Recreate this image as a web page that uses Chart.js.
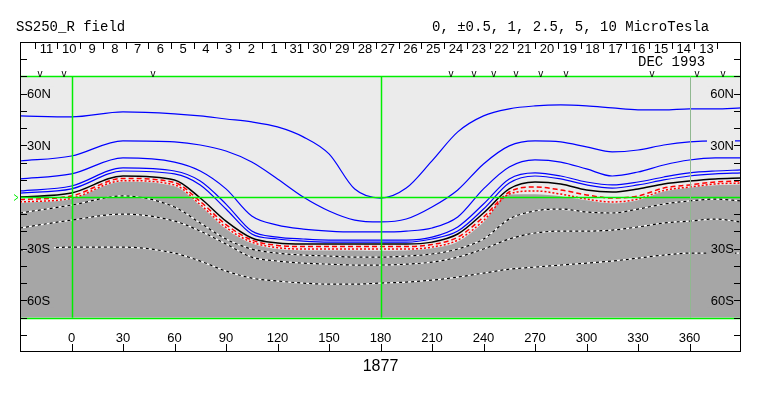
<!DOCTYPE html>
<html>
<head>
<meta charset="utf-8">
<script src="https://cdn.jsdelivr.net/npm/chart.js@4.4.0/dist/chart.umd.min.js"></script>
<style>
  html, body { margin: 0; padding: 0; background: #fff; }
</style>
</head>
<body>
<canvas id="map" width="763" height="396"></canvas>
<script>
// Carrington longitude grid (deg) the contours are sampled on
const lons = [-30, 0, 30, 60, 75, 90, 105, 120, 135, 150, 165, 180, 195, 210, 225, 240, 255, 270, 285, 300, 315, 330, 345, 360, 375, 390];

// positive contours (latitude in deg), top to bottom
const blue1 = [47.1, 46.5, 49.4, 48.3, 47.1, 45.3, 43.6, 40.7, 34.9, 25.0, 4.6, -0.6, 5.2, 21.0, 37.8, 47.1, 51.2, 52.9, 53.5, 52.9, 51.7, 50.6, 50.6, 51.2, 51.2, 51.7];
const blue2 = [20.9, 23.8, 32.6, 32.0, 30.2, 26.7, 20.3, 10.5, 0, -8.1, -13.4, -14.5, -12.8, -5.8, 4.1, 19.2, 29.7, 32.6, 32.0, 29.1, 26.2, 27.3, 30.2, 32.0, 32.6, 32.6];
const blue3 = [10.5, 13.4, 22.7, 20.3, 15.1, 4.7, -11.0, -16.3, -18.6, -19.8, -20.3, -20.3, -19.8, -18.0, -11.6, 4.7, 17.4, 21.5, 20.3, 16.3, 12.2, 14.5, 18.6, 21.5, 22.7, 22.7];
const blue4 = [3.5, 6.4, 16.9, 15.1, 9.3, -4.1, -19.8, -23.3, -24.4, -25.0, -25.0, -25.0, -25.0, -23.3, -17.4, -4.1, 10.5, 14.0, 12.2, 8.7, 7.0, 8.7, 11.6, 14.0, 15.1, 15.7];
const blue5 = [2.3, 4.7, 15.1, 13.4, 7.0, -7.0, -21.5, -24.4, -25.6, -26.2, -26.2, -26.2, -26.2, -24.4, -19.8, -7.0, 8.1, 12.2, 10.5, 7.0, 5.2, 7.0, 9.9, 12.2, 13.4, 14.0];
const blackLine = [0, 2.3, 12.2, 9.9, -0.6, -14.0, -23.8, -26.7, -27.3, -27.3, -27.3, -27.3, -27.3, -26.2, -21.5, -9.3, 4.7, 8.7, 7.6, 4.1, 2.9, 4.7, 7.6, 9.3, 10.5, 11.0];
const redDash = [-1.5, 0.6, 10.8, 8.4, -2.6, -16.0, -25.0, -28.1, -28.8, -28.8, -28.8, -28.8, -28.8, -27.6, -23.3, -11.6, 2.9, 5.8, 4.1, 1.2, -0.6, 0.6, 5.2, 7.0, 8.7, 9.3];
const redDot = [-2.9, -0.8, 9.5, 7.0, -4.4, -17.7, -26.2, -29.4, -30.2, -30.2, -30.2, -30.2, -30.2, -29.1, -25.0, -13.7, 1.7, 3.5, 1.7, -1.2, -2.9, -1.2, 3.8, 5.8, 7.6, 8.1];
// edge of the negative (dark) region
const neutral = [-3.5, -1.2, 8.8, 6.2, -5.1, -18.6, -27.0, -30.2, -31.0, -31.0, -31.0, -31.2, -31.0, -29.8, -26.0, -14.7, 1.4, 1.6, 0.4, -1.9, -3.7, -1.9, 3.2, 5.4, 6.8, 7.3];
// negative contours
const neg1 = [-9.3, -4.7, 0.6, -5.8, -15.1, -24.4, -30.2, -32.6, -33.7, -34.3, -34.9, -34.9, -34.3, -33.1, -30.2, -24.4, -12.8, -8.1, -7.0, -8.7, -9.3, -7.0, -4.1, -2.3, -1.2, -2.3];
const neg2 = [-18.0, -13.4, -9.9, -14.0, -19.8, -27.3, -34.9, -37.2, -38.4, -39.0, -39.5, -39.5, -39.0, -37.8, -34.9, -30.2, -24.4, -20.9, -19.8, -19.8, -19.2, -17.4, -15.1, -14.0, -12.8, -14.5];
const neg3 = [-30.8, -29.1, -29.1, -32.6, -37.2, -43.0, -47.1, -48.8, -50.0, -50.6, -50.6, -50.0, -49.4, -48.3, -46.5, -44.2, -41.9, -40.7, -39.5, -38.4, -37.2, -35.5, -33.7, -32.6, -32.6, -32.6];

// axes
const lonTicks = [0, 30, 60, 90, 120, 150, 180, 210, 240, 270, 300, 330, 360];
const latTicks = [60, 30, -30, -60];
const latLabels = ['60N', '30N', '30S', '60S'];
const latMinor = [80, 70, 60, 50, 40, 30, 20, 10, -10, -20, -30, -40, -50, -60, -70, -80];
const dayTickLons = [-21.5, -8.2, 5.0, 18.3, 31.5, 44.8, 58.1, 71.3, 84.6, 97.8, 111.1, 124.3, 137.6, 150.8, 164.1, 177.3, 190.6, 203.8, 217.1, 230.3, 243.6, 256.9, 270.1, 283.4, 296.6, 309.9, 323.2, 336.4, 349.7, 362.9, 376.2];
const dayLabels = ['11', '10', '9', '8', '7', '6', '5', '4', '3', '2', '1', '31', '30', '29', '28', '27', '26', '25', '24', '23', '22', '21', '20', '19', '18', '17', '16', '15', '14', '13'];
const markerLons = [-18.3, -4.4, 47.5, 221.0, 234.4, 246.0, 258.9, 273.4, 288.0, 338.1, 364.3, 379.5];

function pts(lats) {
  return lons.map((x, i) => ({ x: x, y: lats[i] }));
}

function contour(lats, color, dash, order, width) {
  return {
    data: pts(lats),
    showLine: true,
    borderColor: color,
    borderWidth: width || 1.2,
    borderDash: dash || [],
    pointRadius: 0,
    cubicInterpolationMode: 'monotone',
    fill: false,
    order: order
  };
}

function crisp(v) { return Math.round(v) + 0.5; }

const mapDecor = {
  id: 'mapDecor',
  beforeDatasetsDraw(chart) {
    const { ctx, chartArea: a, scales: { y } } = chart;
    const top = y.getPixelForValue(70), bot = y.getPixelForValue(-70);
    ctx.save();
    ctx.fillStyle = '#ebebeb';
    ctx.fillRect(a.left, top, a.right - a.left, bot - top);
    ctx.restore();
  },
  afterDatasetsDraw(chart) {
    const { ctx, chartArea: a, scales: { x, y } } = chart;
    const top = y.getPixelForValue(70), bot = y.getPixelForValue(-70);
    const y0 = crisp(y.getPixelForValue(0));
    ctx.save();

    // grid lines
    ctx.strokeStyle = '#00ee00';
    ctx.lineWidth = 1.5;
    ctx.beginPath();
    ctx.moveTo(a.left, y0); ctx.lineTo(a.right, y0);
    ctx.moveTo(a.left, crisp(top)); ctx.lineTo(a.right, crisp(top));
    ctx.moveTo(a.left, crisp(bot)); ctx.lineTo(a.right, crisp(bot));
    [0, 180].forEach(v => {
      const px = crisp(x.getPixelForValue(v));
      ctx.moveTo(px, top); ctx.lineTo(px, bot);
    });
    ctx.stroke();
    ctx.strokeStyle = '#90b890';
    ctx.lineWidth = 1;
    ctx.beginPath();
    const p360 = crisp(x.getPixelForValue(360));
    ctx.moveTo(p360, top); ctx.lineTo(p360, bot);
    ctx.stroke();

    // little equator marker outside the frame
    ctx.strokeStyle = '#00ee00';
    ctx.beginPath();
    ctx.moveTo(14, y0 - 3); ctx.lineTo(18, y0); ctx.lineTo(14, y0 + 3);
    ctx.stroke();

    // latitude labels on both sides
    ctx.font = '13px "Liberation Sans"';
    ctx.textBaseline = 'middle';
    latTicks.forEach((v, i) => {
      const py = y.getPixelForValue(v);
      ctx.fillStyle = v > 0 ? '#ebebeb' : '#a6a6a6';
      ctx.fillRect(a.left + 6, py - 7, 28, 14);
      ctx.fillRect(a.right - 34, py - 7, 28, 14);
      ctx.fillStyle = '#000';
      ctx.textAlign = 'left';
      ctx.fillText(latLabels[i], a.left + 7, py + 1);
      ctx.textAlign = 'right';
      ctx.fillText(latLabels[i], a.right - 7, py + 1);
    });

    // frame and ticks
    ctx.strokeStyle = '#000';
    ctx.lineWidth = 1;
    ctx.strokeRect(crisp(a.left), crisp(a.top), Math.round(a.right - a.left) - 1, Math.round(a.bottom - a.top) - 1);
    ctx.beginPath();
    latMinor.forEach(v => {
      const py = crisp(y.getPixelForValue(v));
      ctx.moveTo(a.left, py); ctx.lineTo(a.left + 7, py);
      ctx.moveTo(a.right - 7, py); ctx.lineTo(a.right, py);
    });
    lonTicks.forEach(v => {
      const px = crisp(x.getPixelForValue(v));
      ctx.moveTo(px, a.bottom); ctx.lineTo(px, a.bottom - 8);
    });
    dayTickLons.forEach(v => {
      const px = crisp(x.getPixelForValue(v));
      ctx.moveTo(px, a.top + 1); ctx.lineTo(px, a.top + 7);
    });
    ctx.stroke();

    // longitude labels
    ctx.fillStyle = '#000';
    ctx.textAlign = 'center';
    ctx.textBaseline = 'middle';
    ctx.font = '13px "Liberation Sans"';
    lonTicks.forEach(v => ctx.fillText(String(v), x.getPixelForValue(v), 338));
    ctx.font = '16px "Liberation Sans"';
    ctx.fillText('1877', x.getPixelForValue(180), 367);

    // day numbers along the top
    ctx.font = '13px "Liberation Sans"';
    dayLabels.forEach((d, i) => {
      const px = (x.getPixelForValue(dayTickLons[i]) + x.getPixelForValue(dayTickLons[i + 1])) / 2;
      ctx.fillText(d, px + 0.5, a.top + 7);
    });
    ctx.font = '10px "Liberation Sans"';
    ctx.textBaseline = 'alphabetic';
    markerLons.forEach(v => ctx.fillText('v', x.getPixelForValue(v), 77));

    // titles
    ctx.font = '14px "Liberation Mono"';
    ctx.textAlign = 'left';
    ctx.fillText('SS250_R field', 16, 31);
    ctx.fillText('0, \u00b10.5, 1, 2.5, 5, 10 MicroTesla', 432, 31);
    ctx.fillText('DEC 1993', 638, 66);
    ctx.restore();
  }
};

new Chart(document.getElementById('map').getContext('2d'), {
  type: 'scatter',
  data: {
    datasets: [
      contour(blue1, '#0000ff', null, 20),
      contour(blue2, '#0000ff', null, 20),
      contour(blue3, '#0000ff', null, 20),
      contour(blue4, '#0000ff', null, 20),
      contour(blue5, '#0000ff', null, 20),
      contour(blackLine, '#000000', null, 25, 1.5),
      contour(redDash, '#ff0000', [5, 3], 30, 1.5),
      contour(redDot, '#ff0000', [2, 2], 30, 1.5),
      contour(neg1, '#000000', [3, 3], 40, 1.2),
      contour(neg2, '#000000', [3, 3], 40, 1.2),
      contour(neg3, '#000000', [3, 3], 40, 1.2),
      contour(neg1, '#ffffff', null, 50, 1.2),
      contour(neg2, '#ffffff', null, 50, 1.2),
      contour(neg3, '#ffffff', null, 50, 1.2),
      Object.assign(contour(neutral, 'rgba(0,0,0,0)', null, 100, 0), {
        fill: { value: -70 },
        backgroundColor: '#a6a6a6'
      })
    ]
  },
  options: {
    responsive: false,
    animation: false,
    devicePixelRatio: 1,
    layout: { padding: { left: 20, right: 22, top: 42, bottom: 44 } },
    plugins: { legend: { display: false }, tooltip: { enabled: false }, title: { display: false } },
    events: [],
    scales: {
      x: { type: 'linear', min: -30, max: 390, display: false },
      y: { type: 'linear', min: -90, max: 90, display: false }
    }
  },
  plugins: [mapDecor]
});
</script>
</body>
</html>
